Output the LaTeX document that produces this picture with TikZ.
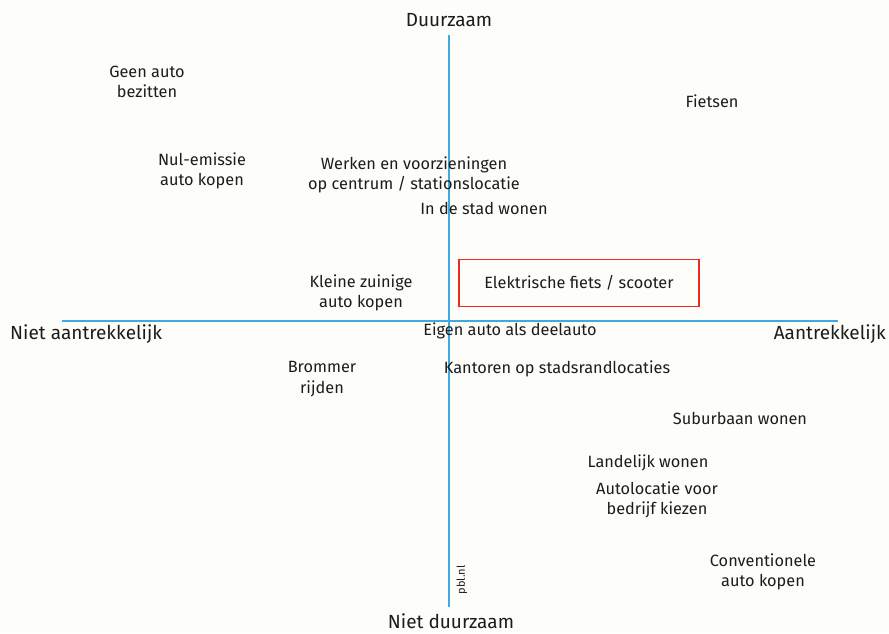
\documentclass[tikz,border=0pt]{standalone}
\usepackage{fontspec}
\setmainfont{Fira Sans}
\definecolor{axisblue}{HTML}{3FA9E0}
\definecolor{boxred}{HTML}{F0281E}
\definecolor{txt}{HTML}{1C1C1C}
\definecolor{paper}{HTML}{FDFDF9}
\begin{document}
\begin{tikzpicture}[x=1pt,y=-1pt]
	\tikzstyle{lbl}=[text=txt,font=\fontsize{16.3}{20.5}\selectfont,align=center,inner sep=0pt]
	\tikzstyle{axlbl}=[lbl,font=\fontsize{19}{20}\selectfont]
	\tikzstyle{axis}=[draw=axisblue,line width=2.6pt]
	\fill[paper] (0,0) rectangle (889,633);
	\useasboundingbox (0,0) rectangle (889,633);
	% assen
	\coordinate (top) at (449,35);
	\coordinate (bot) at (449,607);
	\coordinate (lft) at (62,321);
	\coordinate (rgt) at (838,321);
	\draw[axis] (top) -- (bot);
	\draw[axis] (lft) -- (rgt);
	\node[axlbl] (duur) at (449,20) {Duurzaam};
	\node[axlbl] (nietduur) at (451,621) {Niet duurzaam};
	\node[axlbl,anchor=west] (nietaan) at (10,334) {Niet aantrekkelijk};
	\node[axlbl,anchor=east] (aan) at (886,334) {Aantrekkelijk};
	\node[lbl,font=\fontsize{11}{12}\selectfont,rotate=90] (pbl) at (462,580) {pbl.nl};
	% maatregelen
	\node[lbl] (geenauto) at (147,82) {Geen auto\\bezitten};
	\node[lbl] (fietsen) at (712,101) {Fietsen};
	\node[lbl] (nulem) at (202,171) {Nul-emissie\\auto kopen};
	\node[lbl] (werken) at (414,175) {Werken en voorzieningen\\op centrum / stationslocatie};
	\node[lbl] (stad) at (484,208) {In de stad wonen};
	\node[lbl] (klein) at (361,293) {Kleine zuinige\\auto kopen};
	\node[lbl,draw=boxred,line width=1.6pt,minimum width=240,minimum height=47] (efiets) at (579,283) {Elektrische fiets / scooter};
	\node[lbl] (deel) at (510,331) {Eigen auto als deelauto};
	\node[lbl] (brommer) at (322,379) {Brommer\\rijden};
	\node[lbl] (kantoren) at (557,369) {Kantoren op stadsrandlocaties};
	\node[lbl] (suburb) at (740,418) {Suburbaan wonen};
	\node[lbl] (landelijk) at (648,463) {Landelijk wonen};
	\node[lbl] (autoloc) at (657,500) {Autolocatie voor\\bedrijf kiezen};
	\node[lbl] (conv) at (763,572) {Conventionele\\auto kopen};
\end{tikzpicture}
\end{document}
